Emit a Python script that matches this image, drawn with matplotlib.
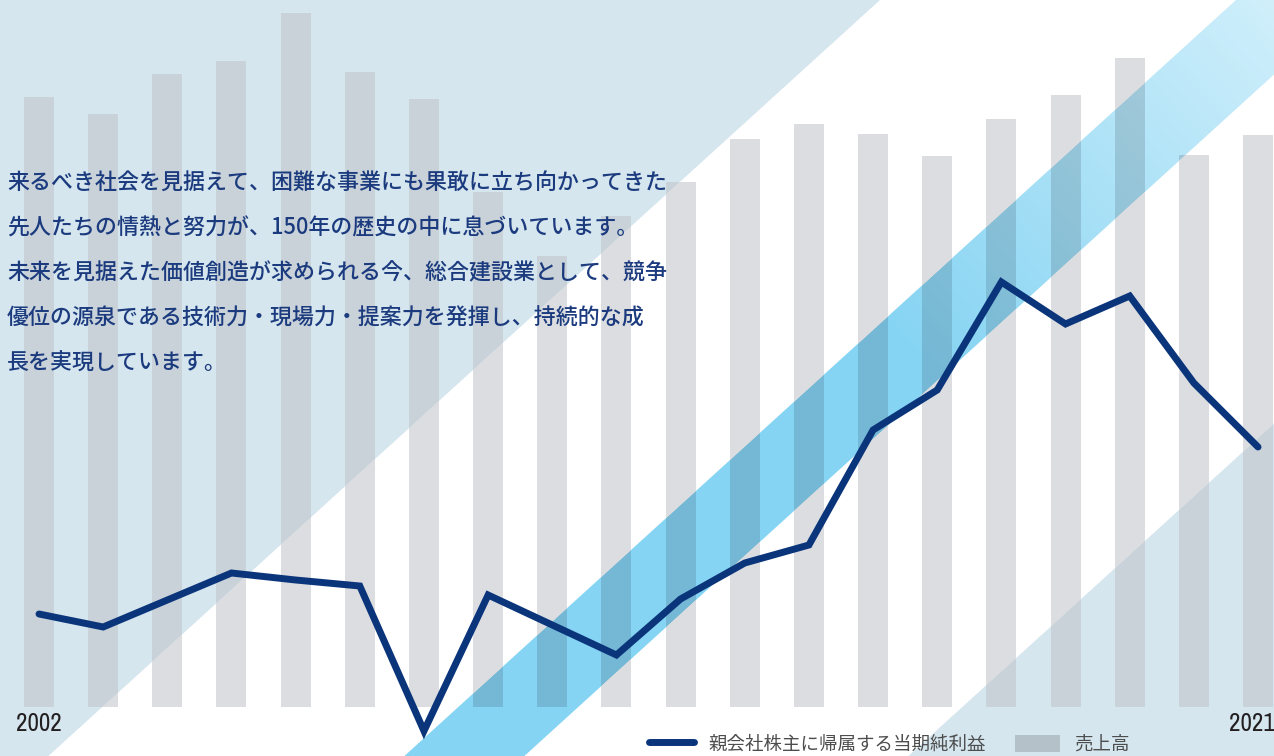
import matplotlib
matplotlib.use("Agg")
import matplotlib.pyplot as plt
import numpy as np
from matplotlib.path import Path
from matplotlib.patches import PathPatch, Patch
from matplotlib.lines import Line2D
from matplotlib.font_manager import FontProperties, fontManager
from matplotlib.transforms import ScaledTranslation

# data (units are the picture's own scale)
years = list(range(2002, 2022))
sales = [610, 593, 633, 646, 694, 635, 608, 515, 451, 491,
         525, 568, 583, 573, 551, 588, 612, 649, 552, 572]
profit = [86, 73, 100, 127, 120, 114, -31, 105, 75, 45,
          101, 137, 155, 270, 310, 418, 376, 404, 317, 253]

year_ticks = [2002, 2021]
legend_labels = ["親会社株主に帰属する当期純利益", "売上高"]
message = [
    "来るべき社会を見据えて、困難な事業にも果敢に立ち向かってきた",
    "先人たちの情熱と努力が、150年の歴史の中に息づいています。",
    "未来を見据えた価値創造が求められる今、総合建設業として、競争",
    "優位の源泉である技術力・現場力・提案力を発揮し、持続的な成",
    "長を実現しています。",
]

NAVY = "#0b357b"
TEXT_BLUE = "#1b3b7e"
JP = ["Noto Sans CJK JP", "DejaVu Sans"]


# an upright narrow face for the year labels, if one is installed
def find_narrow():
    cands = []
    for f in fontManager.ttflist:
        if f.style != "normal" or f.weight not in (400, "normal", "regular"):
            continue
        if "Narrow" in f.name:
            cands.append((0, f.fname))
        elif f.stretch in ("condensed", "semi-condensed") or "Condensed" in f.name:
            cands.append((1, f.fname))
    if not cands:
        return None
    return FontProperties(fname=sorted(cands)[0][1])


narrow = find_narrow()

W, H = 1274, 756
fig = plt.figure(figsize=(W / 100, H / 100), dpi=100)

# background: diagonal stripes, drawn in pixel coordinates
bg = fig.add_axes([0, 0, 1, 1], zorder=0)
bg.set_xlim(0, W)
bg.set_ylim(H, 0)
bg.axis("off")

K = 1.1  # stripe edges follow x + K*y = c


def stripe(c1, c2):
    y0, y1 = -60, H + 60
    return [(c1 - K * y0, y0), (c2 - K * y0, y0), (c2 - K * y1, y1), (c1 - K * y1, y1)]


def region_patch(*polys):
    path = Path.make_compound_path(*[Path(p + [p[0]], closed=True) for p in polys])
    return PathPatch(path, transform=bg.transData)


light_regions = [stripe(-3000, 880), stripe(1740, 5000)]
white_regions = [stripe(880, 1236), stripe(1356, 1740)]
blue_region = [stripe(1236, 1356)]

for poly in light_regions:
    bg.add_patch(plt.Polygon(poly, closed=True, facecolor="#d5e6ef", edgecolor="none"))

# blue stripe with a soft gradient toward the upper right
gx, gy = np.meshgrid(np.arange(W), np.arange(H))
s = K * gx - gy
t = np.clip((s - 650) / (1400 - 650), 0, 1)[..., None]
c0 = np.array([134, 212, 243]) / 255
c1 = np.array([208, 239, 251]) / 255
grad = c0 * (1 - t) + c1 * t
im = bg.imshow(grad, extent=(0, W, H, 0), aspect="auto", zorder=2)
im.set_clip_path(region_patch(*blue_region))
bg.set_xlim(0, W)
bg.set_ylim(H, 0)

# bars (売上高)
ax = fig.add_axes([0, 0, 1, 1], zorder=1)
ax.patch.set_alpha(0)
ax.set_xlim(2001.392, 2021.249)
ax.set_ylim(-49, 707)
for regions, color, alpha in [(white_regions, "#dcdde0", 1.0),
                              (light_regions, "#c9d2d9", 1.0),
                              (blue_region, "#0a1420", 0.14)]:
    clip = region_patch(*regions)
    bars = ax.bar(years, sales, width=0.468, color=color, alpha=alpha, linewidth=0)
    for b in bars:
        b.set_clip_path(clip)

for sp in ax.spines.values():
    sp.set_visible(False)
ax.set_yticks([])
ax.set_xticks(year_ticks)
ax.set_xticklabels([str(y) for y in year_ticks])
if narrow is not None:
    ax.tick_params(axis="x", length=0, pad=-32, labelsize=18, labelcolor="#231f20")
    for lbl in ax.get_xticklabels():
        lbl.set_fontproperties(narrow)
        lbl.set_fontsize(18)
    shift = -6
else:
    ax.tick_params(axis="x", length=0, pad=-31, labelsize=16.5, labelcolor="#231f20")
    for lbl in ax.get_xticklabels():
        lbl.set_fontfamily(["Roboto", "DejaVu Sans"])
        lbl.set_fontweight("medium")
    shift = -10
# keep the last year inside the picture
last = ax.get_xticklabels()[-1]
last.set_transform(last.get_transform() + ScaledTranslation(shift / 100, 0, fig.dpi_scale_trans))

# line (親会社株主に帰属する当期純利益)
ax2 = fig.add_axes([0, 0, 1, 1], zorder=2)
ax2.patch.set_alpha(0)
ax2.set_xlim(ax.get_xlim())
ax2.set_ylim(-56, 700)
ax2.axis("off")
ax2.plot(years, profit, color=NAVY, lw=5, solid_capstyle="round", solid_joinstyle="miter")

# message text
for i, line in enumerate(message):
    fig.text(7 / W, 1 - (189.5 + 45 * i) / H, line, ha="left", va="baseline",
             fontsize=15.8, fontweight="medium", color=TEXT_BLUE, family=JP, zorder=5)

handles = [Line2D([], [], color=NAVY, lw=5, solid_capstyle="round"),
           Patch(facecolor="#b5c1c9", edgecolor="none")]
ax2.legend(handles, legend_labels, ncol=2, loc="lower left",
           bbox_to_anchor=(649 / W, 0.003), bbox_transform=fig.transFigure,
           frameon=False, prop=FontProperties(family=JP, size=13.3),
           labelcolor="#4d4d4d", handlelength=2.45, handleheight=1.1,
           handletextpad=0.75, columnspacing=1.57, borderpad=0, borderaxespad=0)

fig.savefig("out.png", dpi=100)
